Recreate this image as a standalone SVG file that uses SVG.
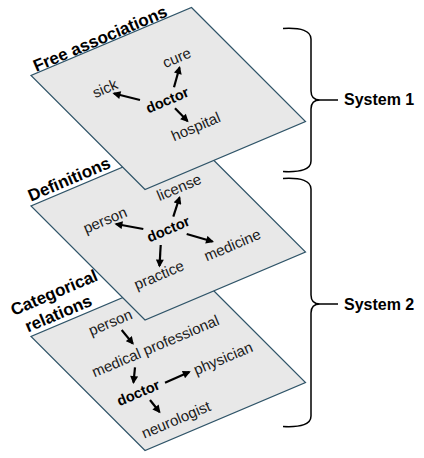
<svg xmlns="http://www.w3.org/2000/svg" width="424" height="458" viewBox="0 0 424 458">
<style>
.plane{fill:#e8e8e8;stroke:#2f5468;stroke-width:1.2}
text{font-family:"Liberation Sans",Arial,sans-serif;fill:#1a1a1a;text-anchor:middle}
.t{font-size:15px}
.b{font-size:14.5px;font-weight:bold;fill:#000}
.lbl{font-size:17px;font-weight:bold;fill:#000}
.sys{font-size:16px;font-weight:bold;fill:#000;text-anchor:start}
.arr{stroke:#000;stroke-width:2.2;fill:none;marker-end:url(#ah)}
.brace{stroke:#000;stroke-width:1.5;fill:none}
</style>
<defs>
<marker id="ah" viewBox="0 0 10 10" refX="8" refY="5" markerWidth="9" markerHeight="8" markerUnits="userSpaceOnUse" orient="auto">
<path d="M0,0 L10,5 L0,10 z" fill="#000"/>
</marker>
</defs>

<g id="plane-categorical">
<polygon class="plane" points="191.5,268.5 305.5,382.5 145,450.5 31,336.5"/>
<text class="lbl" x="54" y="292.5" dy="0.35em" transform="rotate(-23 54 292.5)">Categorical</text>
<text class="lbl" x="58.3" y="313.3" dy="0.35em" transform="rotate(-23 58.3 313.3)">relations</text>
<text class="t" x="110.3" y="322.3" dy="0.35em" transform="rotate(-23 110.3 322.3)">person</text>
<text class="t" x="155.3" y="346" dy="0.35em" transform="rotate(-23 155.3 346)">medical professional</text>
<text class="b" x="138.3" y="392.7" dy="0.35em" transform="rotate(-23 138.3 392.7)">doctor</text>
<text class="t" x="223" y="358.3" dy="0.35em" transform="rotate(-23 223 358.3)">physician</text>
<text class="t" x="176" y="419.5" dy="0.35em" transform="rotate(-23 176 419.5)">neurologist</text>
</g>

<g id="plane-definitions">
<polygon class="plane" points="191.5,138 305.5,252 145,320 31,206"/>
<text class="lbl" x="69" y="179" dy="0.35em" transform="rotate(-23 69 179)">Definitions</text>
<text class="t" x="179" y="187.3" dy="0.35em" transform="rotate(-23 179 187.3)">license</text>
<text class="t" x="105" y="220" dy="0.35em" transform="rotate(-23 105 220)">person</text>
<text class="b" x="168.3" y="229" dy="0.35em" transform="rotate(-23 168.3 229)">doctor</text>
<text class="t" x="232.3" y="245" dy="0.35em" transform="rotate(-23 232.3 245)">medicine</text>
<text class="t" x="159" y="275" dy="0.35em" transform="rotate(-23 159 275)">practice</text>
</g>

<g id="plane-free">
<polygon class="plane" points="191.5,7.5 305.5,121.5 145,189.5 31,75.5"/>
<text class="lbl" x="100" y="38.5" dy="0.35em" transform="rotate(-23 100 38.5)">Free associations</text>
<text class="t" x="105" y="88.3" dy="0.35em" transform="rotate(-23 105 88.3)">sick</text>
<text class="t" x="176.7" y="57.7" dy="0.35em" transform="rotate(-23 176.7 57.7)">cure</text>
<text class="b" x="167.3" y="100" dy="0.35em" transform="rotate(-23 167.3 100)">doctor</text>
<text class="t" x="195.7" y="126.5" dy="0.35em" transform="rotate(-23 195.7 126.5)">hospital</text>
</g>

<g id="connectors">
<line class="arr" x1="140" y1="100" x2="114" y2="93.5"/>
<line class="arr" x1="174" y1="87.3" x2="179.5" y2="67.5"/>
<line class="arr" x1="175" y1="108.3" x2="187.5" y2="121"/>
<line class="arr" x1="173.3" y1="216.7" x2="179.5" y2="197.5"/>
<line class="arr" x1="143.3" y1="229" x2="116" y2="224"/>
<line class="arr" x1="186.7" y1="234" x2="212.5" y2="241.5"/>
<line class="arr" x1="160.7" y1="245" x2="159.5" y2="266"/>
<line class="arr" x1="121.7" y1="330" x2="132.8" y2="343.6"/>
<line class="arr" x1="135" y1="367.3" x2="133.5" y2="382.5"/>
<line class="arr" x1="165" y1="382.7" x2="189.3" y2="372"/>
<line class="arr" x1="150" y1="400" x2="159.5" y2="412"/>
</g>

<g id="brace-system1">
<path class="brace" d="M283,28.5 Q311,27 311,39 L311,91 Q311,100 320,100 M320,100 Q311,100 311,109 L311,161 Q311,173 283,171.5 M320,100 L338,100"/>
<text class="sys" x="344" y="105">System 1</text>
</g>

<g id="brace-system2">
<path class="brace" d="M283,178.5 Q311,177 311,189 L311,295 Q311,304 320,304 M320,304 Q311,304 311,313 L311,416 Q311,428 283,426.5 M320,304 L338,304"/>
<text class="sys" x="344" y="309.5">System 2</text>
</g>
</svg>
